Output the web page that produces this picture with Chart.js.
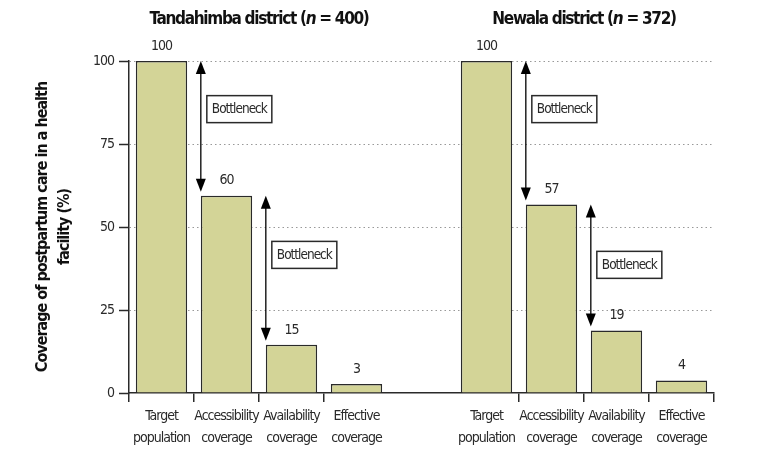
<!DOCTYPE html>
<html>
<head>
<meta charset="utf-8">
<script src="https://cdn.jsdelivr.net/npm/chart.js@4.4.1/dist/chart.umd.min.js"></script>
<style>
  html, body { margin: 0; padding: 0; background: #fff; }
  #wrap { width: 771px; height: 454px; }
</style>
</head>
<body>
<div id="wrap"><canvas id="chart" width="771" height="454"></canvas></div>
<script>
// ============= DATA =============
const stages = [['Target', 'population'], ['Accessibility', 'coverage'], ['Availability', 'coverage'], ['Effective', 'coverage']];
const districtNames = ['Tandahimba district', 'Newala district'];
const sampleSizes = [400, 372];
const tandahimbaCoverage = [100, 59.4, 14.5, 2.7];
const newalaCoverage = [100, 56.8, 18.8, 3.8];
const tandahimbaLabels = ['100', '60', '15', '3'];
const newalaLabels = ['100', '57', '19', '4'];
// where the "Bottleneck" box sits (in %), one per step between stages
const tandahimbaBottleneckAt = [85.5, 41.6];
const newalaBottleneckAt = [85.5, 38.6];
const yMax = 100;
const yStep = 25;

// ============= STYLE =============
const FONT = "'DejaVu Sans Condensed', 'Liberation Sans Narrow', 'DejaVu Sans', sans-serif";
const INK = '#2a2a2a';
const BAR_FILL = '#d3d497';

Chart.defaults.font.family = FONT;
Chart.defaults.color = INK;

// one empty category between the two districts
const labels = [...stages, '', ...stages];
const values = [...tandahimbaCoverage, null, ...newalaCoverage];

const panels = [
    { name: districtNames[0], n: sampleSizes[0], start: 0, values: tandahimbaCoverage, labels: tandahimbaLabels, bottleneckAt: tandahimbaBottleneckAt },
    { name: districtNames[1], n: sampleSizes[1], start: 5, values: newalaCoverage, labels: newalaLabels, bottleneckAt: newalaBottleneckAt }
];

function drawArrowHead(ctx, x, tipY, dir) {
    // dir = -1 points up, 1 points down
    ctx.beginPath();
    ctx.moveTo(x, tipY);
    ctx.lineTo(x - 5, tipY - dir * 13);
    ctx.lineTo(x + 5, tipY - dir * 13);
    ctx.closePath();
    ctx.fill();
}

// the reference uses a condensed face, so tighten the spacing a bit
const condense = {
    id: 'condense',
    beforeDraw(chart) {
        chart.ctx.letterSpacing = '-1px';
    }
};

const annotate = {
    id: 'annotate',
    afterDraw(chart) {
        const ctx = chart.ctx;
        const meta = chart.getDatasetMeta(0);
        const yScale = chart.scales.y;
        ctx.save();

        panels.forEach(p => {
            // district title
            ctx.letterSpacing = '-1.3px';
            const first = meta.data[p.start];
            const last = meta.data[p.start + p.values.length - 1];
            const cx = (first.x + last.x) / 2;
            const parts = [
                { t: p.name + ' (', f: 'bold 17px ' + FONT },
                { t: 'n', f: 'italic bold 17px ' + FONT },
                { t: ' = ' + p.n + ')', f: 'bold 17px ' + FONT }
            ];
            let total = 0;
            parts.forEach(s => { ctx.font = s.f; s.w = ctx.measureText(s.t).width; total += s.w; });
            let tx = cx - total / 2;
            ctx.fillStyle = '#111';
            ctx.textBaseline = 'middle';
            ctx.textAlign = 'left';
            parts.forEach(s => { ctx.font = s.f; ctx.fillText(s.t, tx, 20); tx += s.w; });

            // value labels
            ctx.letterSpacing = '-1px';
            ctx.font = '14px ' + FONT;
            ctx.textAlign = 'center';
            ctx.fillStyle = INK;
            p.labels.forEach((lab, i) => {
                const bar = meta.data[p.start + i];
                ctx.fillText(lab, bar.x, bar.y - 15);
            });

            // bottleneck arrows
            p.bottleneckAt.forEach((at, k) => {
                const to = meta.data[p.start + k + 1];
                const ax = to.x - to.width / 2;
                const yTop = yScale.getPixelForValue(p.values[k]);
                const yBot = yScale.getPixelForValue(p.values[k + 1]) - 4;
                ctx.strokeStyle = '#000';
                ctx.fillStyle = '#000';
                ctx.lineWidth = 1.3;
                ctx.beginPath();
                ctx.moveTo(ax, yTop + 10);
                ctx.lineTo(ax, yBot - 10);
                ctx.stroke();
                drawArrowHead(ctx, ax, yTop, -1);
                drawArrowHead(ctx, ax, yBot, 1);

                const cy = yScale.getPixelForValue(at);
                const bx = ax + 6;
                ctx.fillStyle = '#fff';
                ctx.fillRect(bx, cy - 13.5, 65, 27);
                ctx.strokeStyle = INK;
                ctx.lineWidth = 1.5;
                ctx.strokeRect(bx, cy - 13.5, 65, 27);
                ctx.fillStyle = INK;
                ctx.font = '13.5px ' + FONT;
                ctx.textAlign = 'center';
                ctx.fillText('Bottleneck', bx + 32.5, cy + 0.5);
            });
        });
        ctx.restore();
    }
};

new Chart(document.getElementById('chart'), {
    type: 'bar',
    data: {
        labels: labels,
        datasets: [{
            data: values,
            backgroundColor: BAR_FILL,
            borderColor: INK,
            borderWidth: 1.5,
            barPercentage: 0.79,
            categoryPercentage: 1
        }]
    },
    options: {
        responsive: false,
        animation: false,
        devicePixelRatio: 1,
        layout: { padding: { top: 61, left: 32, right: 57, bottom: 0 } },
        plugins: {
            legend: { display: false },
            tooltip: { enabled: false }
        },
        scales: {
            x: {
                offset: true,
                afterFit: s => { s.height = 61; },
                border: { color: INK, width: 1.5 },
                grid: {
                    offset: true,
                    drawOnChartArea: false,
                    tickLength: 9,
                    lineWidth: 1.5,
                    color: c => (c.index === 4 || c.index === 5) ? 'rgba(0,0,0,0)' : INK,
                    tickColor: c => (c.index === 4 || c.index === 5) ? 'rgba(0,0,0,0)' : INK
                },
                ticks: {
                    autoSkip: false,
                    maxRotation: 0,
                    padding: 3,
                    color: INK,
                    font: { size: 14, lineHeight: 1.6 }
                }
            },
            y: {
                min: 0,
                max: yMax,
                afterFit: s => { s.width = 97; },
                border: { color: INK, width: 1.5, dash: [1.5, 3] },
                grid: {
                    color: c => (c.tick && c.tick.value === 0) ? 'rgba(0,0,0,0)' : '#999',
                    tickColor: INK,
                    tickLength: 10,
                    lineWidth: 1,
                    tickWidth: 1.5
                },
                ticks: {
                    stepSize: yStep,
                    padding: 5,
                    color: INK,
                    font: { size: 14 }
                },
                title: {
                    display: true,
                    text: ['Coverage of postpartum care in a health', 'facility (%)'],
                    color: '#111',
                    padding: 0,
                    font: { size: 16, weight: 'bold', lineHeight: 1.38 }
                }
            }
        }
    },
    plugins: [condense, annotate]
});
</script>
</body>
</html>
